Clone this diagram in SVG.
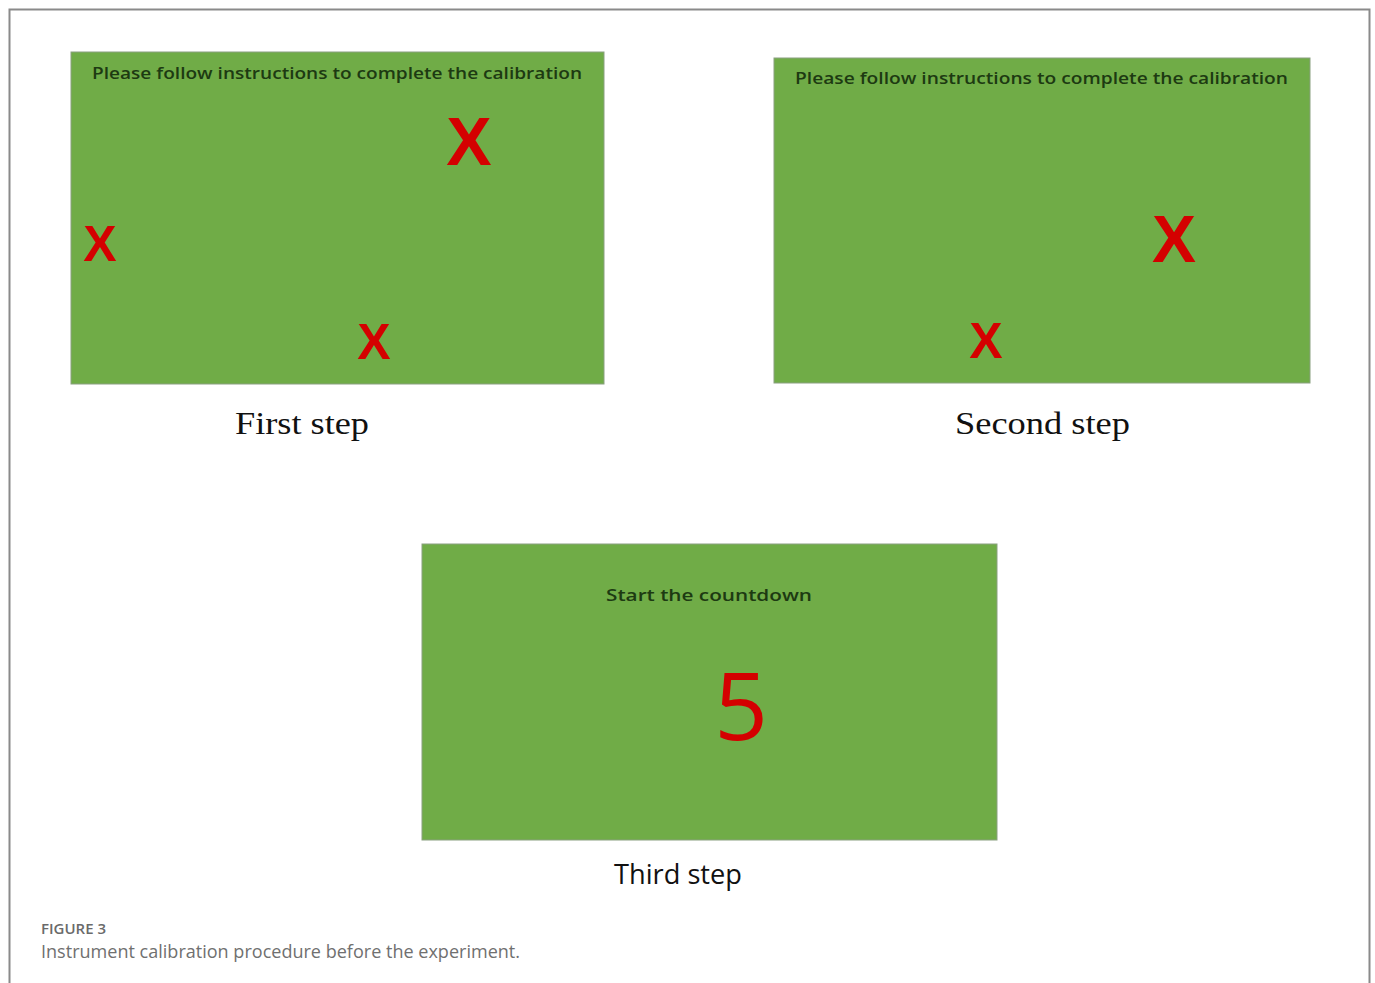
<svg xmlns="http://www.w3.org/2000/svg" width="1375" height="983" viewBox="0 0 1375 983">
<style>
.panel{fill:#70ac47;stroke:#8aa080;stroke-width:1}
.instr{font-family:"Open Sans","Liberation Sans",sans-serif;font-size:16px;fill:#1d3a12;font-weight:600}
.mark{font-family:"Liberation Sans",Arial,sans-serif;fill:#d40000;text-anchor:middle;font-weight:bold}
.num{font-family:"Open Sans","Liberation Sans",sans-serif;fill:#d40000;text-anchor:middle;font-size:94px}
.serif{font-family:"Liberation Serif","Times New Roman",serif;font-size:32px;fill:#111}
.sans{font-family:"Open Sans","Liberation Sans",sans-serif;font-size:27px;fill:#111}
.cap1{font-family:"Open Sans","Liberation Sans",sans-serif;font-size:15px;fill:#6a6a6a;font-weight:600}
.cap2{font-family:"Open Sans","Liberation Sans",sans-serif;font-size:18px;fill:#707070}
</style>
<rect width="1375" height="983" fill="#fff"/>
<path d="M9.5 990 V9.5 H1369.5 V990" fill="none" stroke="#8a8a8a" stroke-width="2"/>
<g id="step1">
<rect class="panel" x="71" y="52" width="533" height="332"/>
<text class="instr" x="92" y="79" textLength="490" lengthAdjust="spacingAndGlyphs">Please follow instructions to complete the calibration</text>
<text class="mark" x="469" y="165" font-size="68">X</text>
<text class="mark" x="100" y="261" font-size="50">X</text>
<text class="mark" x="374" y="359" font-size="50">X</text>
<text class="serif" x="235" y="434" textLength="134" lengthAdjust="spacingAndGlyphs">First step</text>
</g>
<g id="step2">
<rect class="panel" x="774" y="58" width="536" height="325"/>
<text class="instr" x="795" y="84" textLength="493" lengthAdjust="spacingAndGlyphs">Please follow instructions to complete the calibration</text>
<text class="mark" x="1174" y="262" font-size="66">X</text>
<text class="mark" x="986" y="358" font-size="50">X</text>
<text class="serif" x="955" y="434" textLength="175" lengthAdjust="spacingAndGlyphs">Second step</text>
</g>
<g id="step3">
<rect class="panel" x="422" y="544" width="575" height="296"/>
<text class="instr" x="606" y="601" textLength="206" lengthAdjust="spacingAndGlyphs">Start the countdown</text>
<text class="num" x="741" y="740">5</text>
<text class="sans" x="614" y="884" textLength="128" lengthAdjust="spacingAndGlyphs">Third step</text>
</g>
<g id="caption">
<text class="cap1" x="41" y="934">FIGURE 3</text>
<text class="cap2" x="41" y="958" textLength="479" lengthAdjust="spacingAndGlyphs">Instrument calibration procedure before the experiment.</text>
</g>
<g id="connectors"></g>
</svg>
